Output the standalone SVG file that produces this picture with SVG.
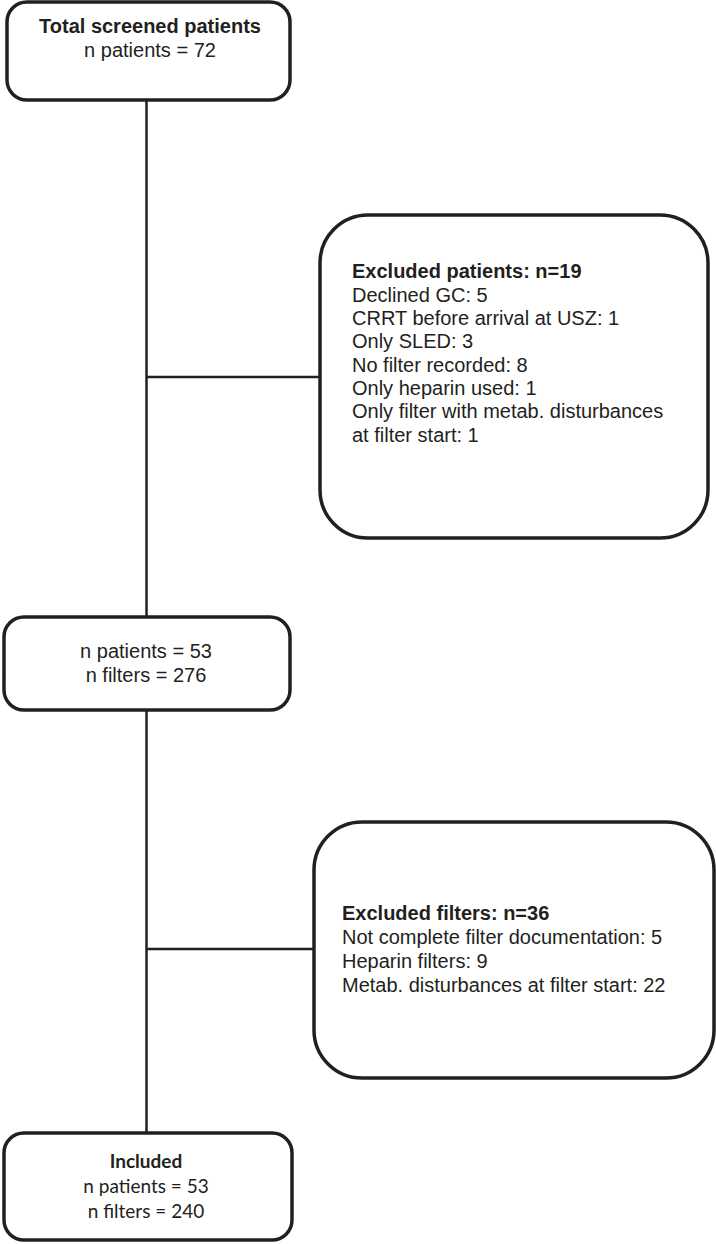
<svg xmlns="http://www.w3.org/2000/svg" width="716" height="1244" viewBox="0 0 716 1244">
<style>
.box{fill:#fff;stroke:#231f20;stroke-width:3.5}
.conn{stroke:#231f20;stroke-width:2.5;fill:none}
.t{font-family:"Liberation Sans",Arial,sans-serif;font-size:20px;fill:#231f20}
.b{font-weight:bold}
.c{text-anchor:middle}
.cal{font-family:Lato,"Open Sans",sans-serif;font-size:19px;fill:#231f20;text-anchor:middle}
</style>
<rect width="716" height="1244" fill="#fff"/>
<g id="connectors">
<line class="conn" x1="146.5" y1="100" x2="146.5" y2="617"/>
<line class="conn" x1="146.5" y1="377" x2="320" y2="377"/>
<line class="conn" x1="146.5" y1="710" x2="146.5" y2="1133"/>
<line class="conn" x1="146.5" y1="949" x2="314" y2="949"/>
</g>
<g id="screened">
<rect class="box" x="7" y="2" width="283" height="98" rx="20"/>
<text class="t b c" x="150" y="33">Total screened patients</text>
<text class="t c" x="150" y="57">n patients = 72</text>
</g>
<g id="excluded-patients">
<rect class="box" x="320" y="215" width="388" height="323" rx="48"/>
<text class="t" x="352">
<tspan class="b" x="352" y="278">Excluded patients: n=19</tspan>
<tspan x="352" y="301.5">Declined GC: 5</tspan>
<tspan x="352" y="325">CRRT before arrival at USZ: 1</tspan>
<tspan x="352" y="348">Only SLED: 3</tspan>
<tspan x="352" y="371.5">No filter recorded: 8</tspan>
<tspan x="352" y="395">Only heparin used: 1</tspan>
<tspan x="352" y="418">Only filter with metab. disturbances</tspan>
<tspan x="352" y="441.5">at filter start: 1</tspan>
</text>
</g>
<g id="after-patients">
<rect class="box" x="4" y="617" width="286" height="93" rx="20"/>
<text class="t c" x="146" y="658">n patients = 53</text>
<text class="t c" x="146" y="682">n filters = 276</text>
</g>
<g id="excluded-filters">
<rect class="box" x="314" y="822" width="400" height="256" rx="48"/>
<text class="t">
<tspan class="b" x="342" y="920">Excluded filters: n=36</tspan>
<tspan x="342" y="944">Not complete filter documentation: 5</tspan>
<tspan x="342" y="968">Heparin filters: 9</tspan>
<tspan x="342" y="992">Metab. disturbances at filter start: 22</tspan>
</text>
</g>
<g id="included">
<rect class="box" x="4" y="1133" width="288" height="107" rx="20"/>
<text class="cal" x="146" y="1168" font-weight="bold">Included</text>
<text class="cal" x="146" y="1193">n patients = 53</text>
<text class="cal" x="146" y="1218">n filters = 240</text>
</g>
</svg>
